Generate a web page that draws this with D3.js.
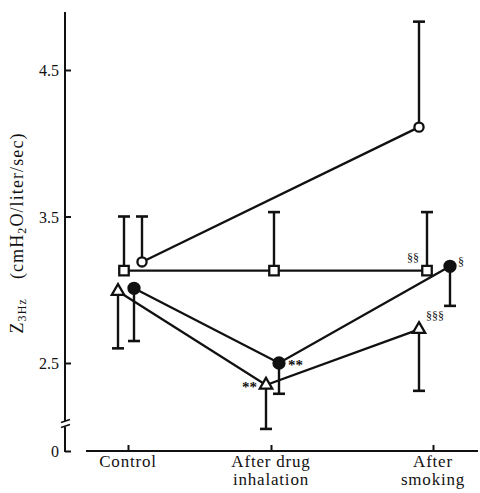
<!DOCTYPE html>
<html>
<head>
<meta charset="utf-8">
<script src="https://cdn.jsdelivr.net/npm/d3@7"></script>
<style>
  body { margin: 0; background: #fff; }
  svg text { font-family: "Liberation Serif", "DejaVu Serif", serif; fill: #111; }
</style>
</head>
<body>
<svg id="chart" width="480" height="493"></svg>
<script>
// ---- data ----
const categories = ["Control", "After drug inhalation", "After smoking"];
const categoryLines = [["Control"], ["After drug", "inhalation"], ["After", "smoking"]];
const yTicks = [2.5, 3.5, 4.5];
const yTickLabels = ["2.5", "3.5", "4.5"];

// open circles (measured at Control and After smoking only), SD drawn upward
const openCircleMean  = [3.19, null, 4.11];
const openCircleUpper = [3.50, null, 4.83];
// open squares, SD drawn upward
const squareMean  = [3.13, 3.13, 3.13];
const squareUpper = [3.50, 3.53, 3.53];
// filled circles, SD drawn downward
const filledCircleMean  = [3.01, 2.50, 3.16];
const filledCircleLower = [2.65, 2.29, 2.89];
// open triangles, SD drawn downward
const triangleMean  = [2.99, 2.35, 2.73];
const triangleLower = [2.60, 2.05, 2.31];

// significance marks
const markSeries = ["triangle", "filled", "square", "filled", "triangle"];
const markCat    = [1, 1, 2, 2, 2];
const markText   = ["**", "**", "§§", "§", "§§§"];

// ---- layout / style ----
const axisX = 65, axisBottomY = 451;
// horizontal dodge of each group's marker within a category
const dodge = {
  openCircle: [14, 0, -14],
  square:     [-4, 3, -6],
  filled:     [6, 8, 17],
  triangle:   [-10, -5, -14]
};
// where each significance mark sits relative to its marker [dx, dy, anchor]
const markOffset = [[-9, 7, "end"], [9, 7, "start"], [-8, -9, "end"], [8, 0, "start"], [7, -9, "start"]];

const svg = d3.select("#chart");
const ink = "#111";

const x = d3.scaleOrdinal().domain(categories).range([128, 271, 433]);
const y = d3.scaleLinear().domain([2.5, 4.5]).range([363, 70]);
// short segment below the axis break, holding only the zero tick
const yZero = d3.scaleLinear().domain([0, 0.2]).range([axisBottomY, 422]);

// ---- y axis (broken) ----
const yAxis = d3.axisLeft(y)
  .tickValues(yTicks)
  .tickFormat((d, i) => yTickLabels[i])
  .tickSizeInner(-6).tickSizeOuter(0).tickPadding(6);
const gy = svg.append("g").attr("transform", `translate(${axisX},0)`).call(yAxis);
gy.select(".domain").remove();
gy.selectAll(".tick line").attr("stroke", ink).attr("stroke-width", 2);
gy.selectAll(".tick text").style("font-size", "16px").attr("dy", "0.36em");

const gz = svg.append("g").attr("transform", `translate(${axisX},0)`)
  .call(d3.axisLeft(yZero).tickValues([0]).tickFormat(d3.format("d"))
    .tickSizeInner(-6).tickSizeOuter(0).tickPadding(6));
gz.select(".domain").remove();
gz.selectAll(".tick line").attr("stroke", ink).attr("stroke-width", 2);
gz.selectAll(".tick text").style("font-size", "16px").attr("dy", "0.36em");

svg.append("line").attr("x1", axisX).attr("x2", axisX).attr("y1", 12).attr("y2", 421)
  .attr("stroke", ink).attr("stroke-width", 2);
svg.append("line").attr("x1", axisX).attr("x2", axisX).attr("y1", 427).attr("y2", axisBottomY + 1)
  .attr("stroke", ink).attr("stroke-width", 2);
// break marks
[421, 426].forEach(b => {
  svg.append("line").attr("x1", axisX - 4).attr("x2", axisX + 5)
    .attr("y1", b + 1.5).attr("y2", b - 1.5)
    .attr("stroke", ink).attr("stroke-width", 1.6);
});

// ---- x axis ----
svg.append("line").attr("x1", 86).attr("x2", 478).attr("y1", axisBottomY).attr("y2", axisBottomY)
  .attr("stroke", ink).attr("stroke-width", 2);
const gx = svg.append("g").attr("transform", `translate(0,${axisBottomY})`)
  .call(d3.axisBottom(x).tickSizeInner(-6).tickSizeOuter(0).tickFormat(""));
gx.select(".domain").remove();
gx.selectAll(".tick line").attr("stroke", ink).attr("stroke-width", 2);

categories.forEach((c, i) => {
  const t = svg.append("text")
    .attr("x", x(c)).attr("y", 467)
    .attr("text-anchor", "middle")
    .style("font-size", "17px").style("letter-spacing", "0.8px");
  categoryLines[i].forEach((line, j) => {
    t.append("tspan").attr("x", x(c)).attr("dy", j === 0 ? 0 : 18).text(line);
  });
});

// ---- y label ----
const yl = svg.append("text")
  .attr("transform", "translate(23,233) rotate(-90)")
  .attr("text-anchor", "middle")
  .style("font-size", "18px").style("letter-spacing", "1.1px");
yl.append("tspan").text("Z");
yl.append("tspan").attr("dy", 3).style("font-size", "12px").text("3Hz");
yl.append("tspan").attr("dy", -3).text("\u2003(cmH");
yl.append("tspan").attr("dy", 3).style("font-size", "12px").text("2");
yl.append("tspan").attr("dy", -3).text("O/liter/sec)");

// ---- series ----
function points(mean, bound, key) {
  return categories.map((c, i) => ({
    cat: c, v: mean[i], b: bound[i], px: x(c) + dodge[key][i]
  })).filter(d => d.v != null);
}
const series = [
  { key: "openCircle", pts: points(openCircleMean, openCircleUpper, "openCircle") },
  { key: "square",     pts: points(squareMean, squareUpper, "square") },
  { key: "filled",     pts: points(filledCircleMean, filledCircleLower, "filled") },
  { key: "triangle",   pts: points(triangleMean, triangleLower, "triangle") }
];

const line = d3.line().x(d => d.px).y(d => y(d.v));
const gLines = svg.append("g");
const gErr = svg.append("g");
const gMarks = svg.append("g");

series.forEach(s => {
  gLines.append("path").datum(s.pts)
    .attr("d", line).attr("fill", "none")
    .attr("stroke", ink).attr("stroke-width", 2.3);

  s.pts.forEach(d => {
    gErr.append("line").attr("x1", d.px).attr("x2", d.px)
      .attr("y1", y(d.v)).attr("y2", y(d.b))
      .attr("stroke", ink).attr("stroke-width", 2.4);
    gErr.append("line").attr("x1", d.px - 6).attr("x2", d.px + 6)
      .attr("y1", y(d.b)).attr("y2", y(d.b))
      .attr("stroke", ink).attr("stroke-width", 2.6);
  });
});

const sym = {
  openCircle: { type: d3.symbolCircle, size: 66, fill: "#fff" },
  square:     { type: d3.symbolSquare, size: 90, fill: "#fff" },
  filled:     { type: d3.symbolCircle, size: 95, fill: ink },
  triangle:   { type: d3.symbolTriangle, size: 66, fill: "#fff" }
};
series.forEach(s => {
  const st = sym[s.key];
  gMarks.selectAll(null).data(s.pts).join("path")
    .attr("transform", d => `translate(${d.px},${y(d.v)})`)
    .attr("d", d3.symbol().type(st.type).size(st.size))
    .attr("fill", st.fill).attr("stroke", ink).attr("stroke-width", 2.3);
});

// ---- significance marks ----
const seriesMean = { openCircle: openCircleMean, square: squareMean, filled: filledCircleMean, triangle: triangleMean };
markText.forEach((t, i) => {
  const key = markSeries[i], ci = markCat[i];
  const px = x(categories[ci]) + dodge[key][ci];
  const py = y(seriesMean[key][ci]);
  const o = markOffset[i];
  svg.append("text")
    .attr("x", px + o[0]).attr("y", py + o[1])
    .attr("text-anchor", o[2])
    .style("font-size", t.startsWith("*") ? "15px" : "12px")
    .style("font-weight", t.startsWith("*") ? "bold" : "normal")
    .text(t);
});
</script>
</body>
</html>
